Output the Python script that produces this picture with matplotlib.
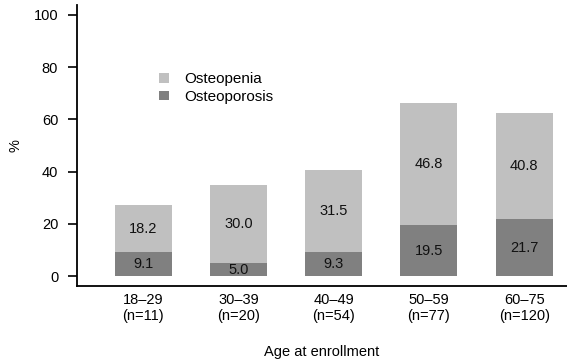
import matplotlib
matplotlib.use("Agg")
import matplotlib.pyplot as plt
import numpy as np

plt.rcParams['font.family'] = ['Liberation Sans', 'DejaVu Sans']

categories = ["18\u201329\n(n=11)", "30\u201339\n(n=20)", "40\u201349\n(n=54)", "50\u201359\n(n=77)", "60\u201375\n(n=120)"]
osteoporosis = [9.1, 5.0, 9.3, 19.5, 21.7]
osteopenia = [18.2, 30.0, 31.5, 46.8, 40.8]

fig = plt.figure(figsize=(5.67, 3.61), dpi=100)
ax = fig.add_axes([77/567, 1-286/361, 1-77/567, (286-5)/361])

x = np.arange(len(categories))
w = 0.6
c_dark = "#808080"
c_light = "#c0c0c0"
fs = 10.5
ax.bar(x, osteoporosis, width=w, color=c_dark, label="Osteoporosis")
ax.bar(x, osteopenia, width=w, bottom=osteoporosis, color=c_light, label="Osteopenia")

for i in range(len(x)):
    ax.text(x[i], osteoporosis[i]/2, f"{osteoporosis[i]:.1f}", ha="center", va="center", fontsize=fs, color="#111111")
    ax.text(x[i], osteoporosis[i] + osteopenia[i]/2, f"{osteopenia[i]:.1f}", ha="center", va="center", fontsize=fs, color="#111111")

ax.set_xlim(-0.695, 4.45)
ax.set_ylim(-3.8, 103.8)
ax.set_yticks([0, 20, 40, 60, 80, 100])
ax.set_xticks(x)
ax.set_xticklabels(categories, fontsize=fs, linespacing=1.15)
ax.tick_params(axis='x', length=0, pad=5)
ax.tick_params(axis='y', length=6.5, width=1.2, labelsize=fs, pad=7)
for s in ['top', 'right']:
    ax.spines[s].set_visible(False)
for s in ['left', 'bottom']:
    ax.spines[s].set_linewidth(1.3)

ax.set_ylabel("%", fontsize=fs, labelpad=8)
ax.set_xlabel("Age at enrollment", fontsize=fs, labelpad=16)

h, l = ax.get_legend_handles_labels()
ax.legend(h[::-1], l[::-1], loc="upper left", bbox_to_anchor=(0.14, 0.81), frameon=False,
          fontsize=11, handlelength=0.6, handleheight=0.6, handletextpad=1.0, labelspacing=0.25)

fig.savefig("out.png", dpi=100)
